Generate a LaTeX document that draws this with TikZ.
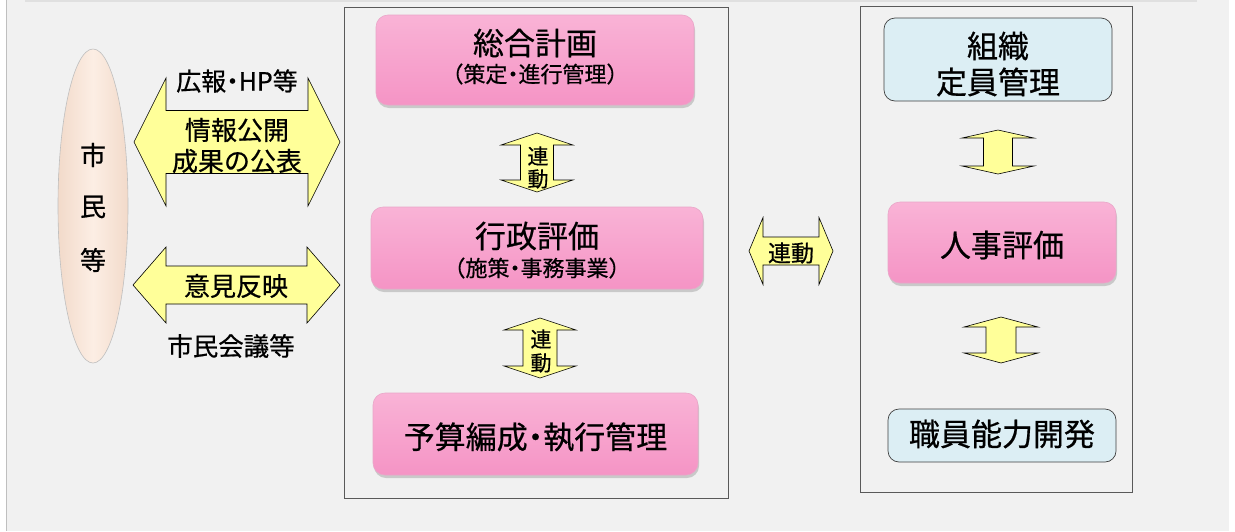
\documentclass[tikz,border=0pt]{standalone}
\usepackage{fontspec}
\setmainfont{Noto Sans CJK JP}[FakeBold=0.6,AutoFakeBold=0.6]
\newcommand{\ndot}{{\addfontfeatures{RawFeature=+palt}・}}
\usetikzlibrary{shadows,shapes.geometric}
\definecolor{bg}{HTML}{F1F1F1}
\definecolor{pinkT}{HTML}{F9B3D6}
\definecolor{pinkM}{HTML}{F798C8}
\definecolor{pinkB}{HTML}{F594C5}
\definecolor{pinkE}{HTML}{E9A6C8}
\definecolor{blueF}{HTML}{DCEEF4}
\definecolor{yel}{HTML}{FFFF99}
\definecolor{peachL}{HTML}{FCEEE4}
\definecolor{peachD}{HTML}{F2DACA}
\tikzset{
  yarrow/.style={fill=yel, draw=black, line width=0.6pt, line join=miter},
  pinkbox/.style={rounded corners=12pt, draw=pinkE, line width=0.6pt,
    top color=pinkT, middle color=pinkM, bottom color=pinkB,
    drop shadow={shadow xshift=1pt, shadow yshift=-3pt, opacity=0.35}},
  bluebox/.style={rounded corners=11pt, draw=black!75, line width=0.7pt, fill=blueF},
  panel/.style={draw=black!65, line width=0.8pt, fill=bg},
  big/.style={font=\fontsize{31}{31}\selectfont\bfseries, inner sep=0pt},
  sub/.style={font=\fontsize{22}{22}\selectfont\bfseries, inner sep=0pt},
  mid/.style={font=\fontsize{26}{26}\selectfont\bfseries, inner sep=0pt},
  sml/.style={font=\fontsize{21}{21}\selectfont\bfseries, inner sep=0pt},
  pics/hdarrow/.style n args={4}{code={
    \draw[yarrow] (-#1,0) -- (-#1+#2,-#4) -- (-#1+#2,-#3) -- (#1-#2,-#3) -- (#1-#2,-#4)
      -- (#1,0) -- (#1-#2,#4) -- (#1-#2,#3) -- (-#1+#2,#3) -- (-#1+#2,#4) -- cycle;}},
  pics/vdarrow/.style n args={4}{code={
    \draw[yarrow] (0,-#1) -- (#4,-#1+#2) -- (#3,-#1+#2) -- (#3,#1-#2) -- (#4,#1-#2)
      -- (0,#1) -- (-#4,#1-#2) -- (-#3,#1-#2) -- (-#3,-#1+#2) -- (-#4,-#1+#2) -- cycle;}},
}
\begin{document}
\begin{tikzpicture}[x=1pt,y=-1pt]
\useasboundingbox (0,0) rectangle (1235,531);
% background
\fill[white] (0,0) rectangle (1235,531);
\fill[bg] (7,0) rectangle (1229,531);
\draw[black!25, line width=1.2pt] (6.5,0) -- (6.5,531);
\draw[black!12, line width=2pt] (25,0.5) -- (1197,0.5);

% citizens
\node[ellipse, minimum width=70pt, minimum height=314pt, draw=black!25, line width=0.6pt,
  left color=peachD, right color=peachD, middle color=peachL] (citizen) at (93,206) {};
\node[mid] (c1) at (93,155) {市};
\node[mid] (c2) at (93,207) {民};
\node[mid] (c3) at (93,260) {等};

% left arrows
\pic (infoarrow) at (237,142) {hdarrow={103}{32}{31.5}{64}};
\node[mid, font=\fontsize{25}{25}\selectfont\bfseries] (pr) at (237,81) {広報\ndot HP等};
\node[mid] (info1) at (237,130) {情報公開};
\node[mid] (info2) at (237,161) {成果の公表};
\pic (opinarrow) at (236.5,285) {hdarrow={103.5}{33}{19}{38}};
\node[mid] (opin) at (236,286) {意見反映};
\node[mid, font=\fontsize{25.5}{25.5}\selectfont\bfseries] (meet) at (231,346) {市民会議等};

% middle panel
\node[panel, minimum width=384pt, minimum height=491pt, inner sep=0pt] (midpanel) at (536,252.5) {};
\node[pinkbox, minimum width=318pt, minimum height=90pt] (plan) at (535,60) {};
\node[big] (plan1) at (535,43) {総合計画};
\node[sub] (plan2) at (535,74) {（策定\ndot 進行管理）};
\node[pinkbox, minimum width=332pt, minimum height=82pt] (eval) at (537,248) {};
\node[big] (eval1) at (537,236) {行政評価};
\node[sub] (eval2) at (537,268) {（施策\ndot 事務事業）};
\node[pinkbox, minimum width=325pt, minimum height=82pt] (budget) at (535.5,434) {};
\node[big] (budget1) at (535.5,437) {予算編成\ndot 執行管理};

\pic (v1) at (537,162.5) {vdarrow={29.5}{12}{16.5}{36}};
\node[sml] (v1a) at (538,156) {連};
\node[sml] (v1b) at (538,179) {動};
\pic (v2) at (540,348) {vdarrow={30}{12}{17}{36}};
\node[sml] (v2a) at (541,339) {連};
\node[sml] (v2b) at (541,363) {動};

% link arrow
\pic (linkarrow) at (791,251) {hdarrow={42}{14}{14}{33.5}};
\node[sml, font=\fontsize{23}{23}\selectfont\bfseries] (link) at (791,253) {連動};

% right panel
\node[panel, minimum width=272pt, minimum height=486pt, inner sep=0pt] (rightpanel) at (996,249) {};
\node[bluebox, minimum width=228pt, minimum height=83pt] (org) at (998,59.5) {};
\node[big] (org1) at (998,46) {組織};
\node[big] (org2) at (998,82) {定員管理};
\pic (v3) at (998,152) {vdarrow={22}{8}{14.5}{36}};
\node[pinkbox, minimum width=228pt, minimum height=81pt] (hr) at (1002,242.5) {};
\node[big] (hr1) at (1002,245) {人事評価};
\pic (v4) at (1001,340) {vdarrow={23}{10}{15}{37}};
\node[bluebox, minimum width=228pt, minimum height=53pt] (dev) at (1002,435.5) {};
\node[big] (dev1) at (1002,434) {職員能力開発};
\end{tikzpicture}
\end{document}
